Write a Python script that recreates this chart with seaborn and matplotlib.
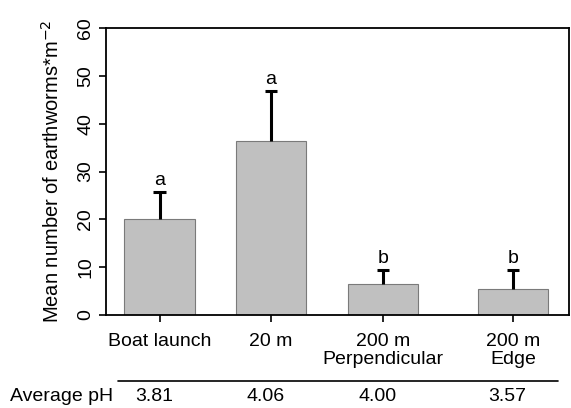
import matplotlib
matplotlib.use("Agg")
import matplotlib.pyplot as plt
import matplotlib.transforms as mtransforms
import pandas as pd
import seaborn as sns

# data
sites = ["Boat launch", "20 m", "200 m\nPerpendicular", "200 m\nEdge"]
positions = [1.0, 2.0, 3.0, 4.17]
mean_worms = [20.0, 36.4, 6.5, 5.4]
upper_err = [5.7, 10.5, 2.9, 4.0]
letters = ["a", "a", "b", "b"]
avg_ph = ["3.81", "4.06", "4.00", "3.57"]

sns.set_style("ticks")
plt.rcParams["font.family"] = ["Liberation Sans", "DejaVu Sans"]
plt.rcParams["text.color"] = "black"
plt.rcParams["xtick.color"] = "black"
plt.rcParams["ytick.color"] = "black"
plt.rcParams["axes.labelcolor"] = "black"

df = pd.DataFrame({"pos": positions, "mean": mean_worms})

fig = plt.figure(figsize=(5.71, 4.08), dpi=100)
ax = fig.add_axes([0.1856, 0.228, 0.811, 0.703])

sns.barplot(data=df, x="pos", y="mean", native_scale=True, width=0.63,
            color="#c0c0c0", saturation=1, edgecolor="#7a7a7a", linewidth=0.8,
            errorbar=None, ax=ax)

# one-sided error bars (upper only)
tops = [m + e for m, e in zip(mean_worms, upper_err)]
ax.vlines(positions, mean_worms, tops, color="black", lw=2.2)
ax.hlines(tops, [p - 0.055 for p in positions], [p + 0.055 for p in positions],
          color="black", lw=2.2)

for x, t, lab in zip(positions, tops, letters):
    ax.text(x, t + 0.6, lab, ha="center", va="bottom", fontsize=14)

ax.set_xlim(0.52, 4.67)
ax.set_ylim(0, 60)
ax.set_yticks(range(0, 61, 10))
ax.set_xticks(positions)
ax.set_xticklabels(sites, fontsize=14, linespacing=1.05)
ax.tick_params(axis="y", labelsize=14, labelrotation=90, length=5, width=1.2)
ax.tick_params(axis="x", length=5, width=1.2, pad=8)
for lab in ax.get_yticklabels():
    lab.set_va("center")
ax.set_xlabel("")
ax.set_ylabel("Mean number of earthworms*m$^{-2}$", fontsize=14.5, labelpad=10)
for sp in ax.spines.values():
    sp.set_visible(True)
    sp.set_linewidth(1.3)
    sp.set_color("black")

# pH table below the axis
fig.add_artist(plt.Line2D([0.2067, 0.977], [0.066, 0.066], color="black", lw=1.2))
fig.text(0.018, 0.027, "Average pH", fontsize=14, va="center", ha="left")
trans = mtransforms.blended_transform_factory(ax.transData, fig.transFigure)
for x, v in zip(positions, avg_ph):
    ax.text(x - 0.05, 0.027, v, transform=trans, ha="center", va="center",
            fontsize=14, clip_on=False)

fig.savefig("out.png", dpi=100)
